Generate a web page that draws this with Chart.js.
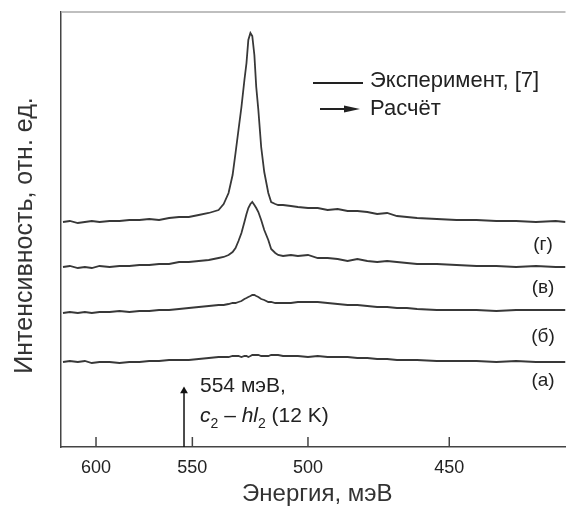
<!DOCTYPE html>
<html lang="ru">
<head>
<meta charset="UTF-8" />
<script src="https://cdn.jsdelivr.net/npm/chart.js@4.4.1/dist/chart.umd.min.js"></script>
<title>Спектры</title>
<style>
  html, body { margin: 0; padding: 0; background: #fff; }
</style>
</head>
<body>
<canvas id="chart" width="570" height="506"></canvas>
<script>
const FONT = '"Liberation Sans", Arial, sans-serif';

// энергия, мэВ (общая сетка для всех спектров)
const energy = [
  619.3, 615.2, 610.5, 606.4, 602.4, 598.0, 592.4, 587.0, 581.7, 576.4,
  571.3, 566.3, 561.3, 556.4, 551.7, 547.0, 542.3, 537.8, 535.5, 533.3,
  531.5, 530.2, 528.9, 527.6, 526.3, 525.4, 524.6, 523.7, 522.9, 522.0,
  521.2, 520.3, 519.1, 517.8, 516.1, 514.9, 513.2, 512.0, 510.0, 506.8,
  504.0, 500.0, 496.2, 492.4, 488.6, 484.9, 481.3, 477.7, 474.2, 470.7,
  467.3, 463.9, 460.5, 454.0, 447.7, 441.5, 435.5, 429.7, 424.0, 418.5,
  415.8
];

// интенсивность, отн. ед. (со сдвигом по вертикали)
const spectrumA = [
  0.85, 0.86, 0.85, 0.86, 0.84, 0.85, 0.85, 0.84, 0.85, 0.85,
  0.86, 0.86, 0.87, 0.87, 0.87, 0.88, 0.89, 0.90, 0.90, 0.90,
  0.91, 0.91, 0.91, 0.90, 0.91, 0.91, 0.90, 0.91, 0.92, 0.92,
  0.92, 0.92, 0.91, 0.91, 0.91, 0.92, 0.92, 0.92, 0.91, 0.91,
  0.91, 0.90, 0.91, 0.90, 0.90, 0.90, 0.89, 0.89, 0.88, 0.88,
  0.87, 0.87, 0.87, 0.86, 0.86, 0.86, 0.85, 0.86, 0.85, 0.85,
  0.85
];
const spectrumB = [
  1.34, 1.35, 1.34, 1.35, 1.34, 1.35, 1.35, 1.36, 1.35, 1.36,
  1.36, 1.37, 1.37, 1.38, 1.39, 1.40, 1.41, 1.42, 1.42, 1.43,
  1.44, 1.44, 1.45, 1.46, 1.48, 1.49, 1.50, 1.51, 1.52, 1.52,
  1.51, 1.50, 1.48, 1.47, 1.45, 1.45, 1.44, 1.44, 1.44, 1.44,
  1.45, 1.45, 1.45, 1.44, 1.43, 1.42, 1.42, 1.41, 1.40, 1.40,
  1.39, 1.39, 1.38, 1.37, 1.37, 1.37, 1.36, 1.37, 1.37, 1.37,
  1.37
];
const spectrumV = [
  1.80, 1.81, 1.79, 1.80, 1.79, 1.81, 1.80, 1.81, 1.81, 1.82,
  1.82, 1.83, 1.83, 1.85, 1.85, 1.86, 1.87, 1.89, 1.90, 1.92,
  1.95, 1.99, 2.06, 2.14, 2.25, 2.33, 2.39, 2.43, 2.45, 2.42,
  2.39, 2.35, 2.27, 2.17, 2.07, 1.98, 1.94, 1.92, 1.91, 1.92,
  1.91, 1.92, 1.89, 1.89, 1.88, 1.86, 1.88, 1.86, 1.85, 1.86,
  1.85, 1.84, 1.83, 1.83, 1.82, 1.81, 1.81, 1.80, 1.81, 1.80,
  1.80
];
const spectrumG = [
  2.25, 2.26, 2.24, 2.25, 2.26, 2.25, 2.26, 2.26, 2.27, 2.27,
  2.28, 2.27, 2.29, 2.30, 2.30, 2.32, 2.34, 2.37, 2.43, 2.54,
  2.72, 2.94, 3.17, 3.40, 3.67, 3.84, 4.07, 4.14, 4.11, 3.92,
  3.60, 3.37, 3.00, 2.75, 2.54, 2.45, 2.43, 2.42, 2.42, 2.41,
  2.40, 2.39, 2.39, 2.37, 2.38, 2.36, 2.36, 2.35, 2.33, 2.34,
  2.31, 2.30, 2.29, 2.28, 2.27, 2.27, 2.26, 2.26, 2.25, 2.26,
  2.25
];

const tickEnergies = [600, 550, 500, 450];
const energyMin = 620.5;
const energyMax = 415.8;

const xTitle = "Энергия, мэВ";
const yTitle = "Интенсивность, отн. ед.";

const curveLabels = ["(а)", "(б)", "(в)", "(г)"];
const labelEnergy = 422.0;
const labelLevels = [0.66, 1.10, 1.59, 2.02];

const calcEnergy = 554;
const calcArrowTop = 0.56;

// ось линейна по 1/E
const inv = e => 1000 / e;
const toPoints = s => energy.map((e, i) => ({ x: inv(e), y: s[i] }));

const lineStyle = {
  borderColor: "#383838",
  borderWidth: 1.8,
  pointRadius: 0,
  tension: 0,
  fill: false
};

const overlay = {
  id: "overlay",
  afterDraw(chart) {
    const { ctx, chartArea: a, scales: { x, y } } = chart;
    ctx.save();

    // верхняя рамка
    ctx.strokeStyle = "#aaa";
    ctx.lineWidth = 1.5;
    ctx.beginPath();
    ctx.moveTo(a.left, a.top);
    ctx.lineTo(a.right, a.top);
    ctx.stroke();

    // штрихи внутрь
    ctx.strokeStyle = "#444";
    x.ticks.forEach(t => {
      const px = x.getPixelForValue(t.value);
      ctx.beginPath();
      ctx.moveTo(px, a.bottom);
      ctx.lineTo(px, a.bottom - 10);
      ctx.stroke();
    });

    // подписи осей
    ctx.fillStyle = "#333";
    ctx.font = "24px " + FONT;
    ctx.textAlign = "center";
    ctx.textBaseline = "alphabetic";
    ctx.fillText(xTitle, (a.left + a.right) / 2 + 4, a.bottom + 54);
    ctx.save();
    ctx.translate(a.left - 29, (a.top + a.bottom) / 2 + 6);
    ctx.rotate(-Math.PI / 2);
    ctx.font = "25px " + FONT;
    ctx.fillText(yTitle, 0, 0);
    ctx.restore();

    ctx.fillStyle = "#222";
    ctx.font = "19px " + FONT;
    ctx.textAlign = "center";
    ctx.textBaseline = "middle";
    curveLabels.forEach((l, i) => {
      ctx.fillText(l, x.getPixelForValue(inv(labelEnergy)), y.getPixelForValue(labelLevels[i]));
    });

    // подпись расчёта
    const ax = x.getPixelForValue(inv(calcEnergy)) + 16;
    ctx.textAlign = "left";
    ctx.textBaseline = "alphabetic";
    ctx.font = "21px " + FONT;
    ctx.fillText("554 мэВ,", ax, a.bottom - 55);
    let cx = ax;
    const base = a.bottom - 25;
    const part = (txt, font, dy) => {
      ctx.font = font;
      ctx.fillText(txt, cx, base + dy);
      cx += ctx.measureText(txt).width;
    };
    part("c", "italic 21px " + FONT, 0);
    part("2", "14px " + FONT, 6);
    part(" – ", "21px " + FONT, 0);
    part("hl", "italic 21px " + FONT, 0);
    part("2", "14px " + FONT, 6);
    part(" (12 K)", "21px " + FONT, 0);

    // легенда
    ctx.strokeStyle = "#222";
    ctx.lineWidth = 2;
    ctx.beginPath();
    ctx.moveTo(313, 83);
    ctx.lineTo(363, 83);
    ctx.stroke();
    ctx.beginPath();
    ctx.moveTo(320, 109);
    ctx.lineTo(348, 109);
    ctx.stroke();
    ctx.beginPath();
    ctx.moveTo(360, 109);
    ctx.lineTo(344, 105.5);
    ctx.lineTo(344, 112.5);
    ctx.closePath();
    ctx.fill();
    ctx.font = "22px " + FONT;
    ctx.textBaseline = "middle";
    ctx.fillText("Эксперимент, [7]", 370, 81);
    ctx.fillText("Расчёт", 370, 109);

    ctx.restore();
  }
};

new Chart(document.getElementById("chart"), {
  type: "line",
  data: {
    datasets: [
      { ...lineStyle, data: toPoints(spectrumA) },
      { ...lineStyle, data: toPoints(spectrumB) },
      { ...lineStyle, data: toPoints(spectrumV) },
      { ...lineStyle, data: toPoints(spectrumG) },
      {
        data: [
          { x: inv(calcEnergy), y: 0 },
          { x: inv(calcEnergy), y: calcArrowTop }
        ],
        borderColor: "#111",
        borderWidth: 1.5,
        backgroundColor: "#111",
        pointStyle: "triangle",
        pointRadius: [0, 4.5],
        pointBorderWidth: 0,
        fill: false
      }
    ]
  },
  options: {
    responsive: false,
    animation: false,
    layout: { padding: { top: 12, right: 0, left: 0, bottom: 0 } },
    plugins: {
      legend: { display: false },
      tooltip: { enabled: false }
    },
    scales: {
      x: {
        type: "linear",
        min: inv(energyMin),
        max: inv(energyMax),
        afterBuildTicks: s => {
          s.ticks = tickEnergies.map(e => ({ value: inv(e) }));
        },
        afterFit: s => { s.height = 59; },
        ticks: {
          callback: v => Math.round(1000 / v),
          font: { family: FONT, size: 18 },
          color: "#222",
          padding: 10,
          maxRotation: 0,
          autoSkip: false
        },
        grid: { display: false, drawTicks: false },
        border: { display: true, color: "#444", width: 1.5 },
        title: { display: false }
      },
      y: {
        min: 0,
        max: 4.35,
        afterFit: s => { s.width = 61; },
        ticks: { display: false },
        grid: { display: false, drawTicks: false },
        border: { display: true, color: "#444", width: 1.5 },
        title: { display: false }
      }
    }
  },
  plugins: [overlay]
});
</script>
</body>
</html>
